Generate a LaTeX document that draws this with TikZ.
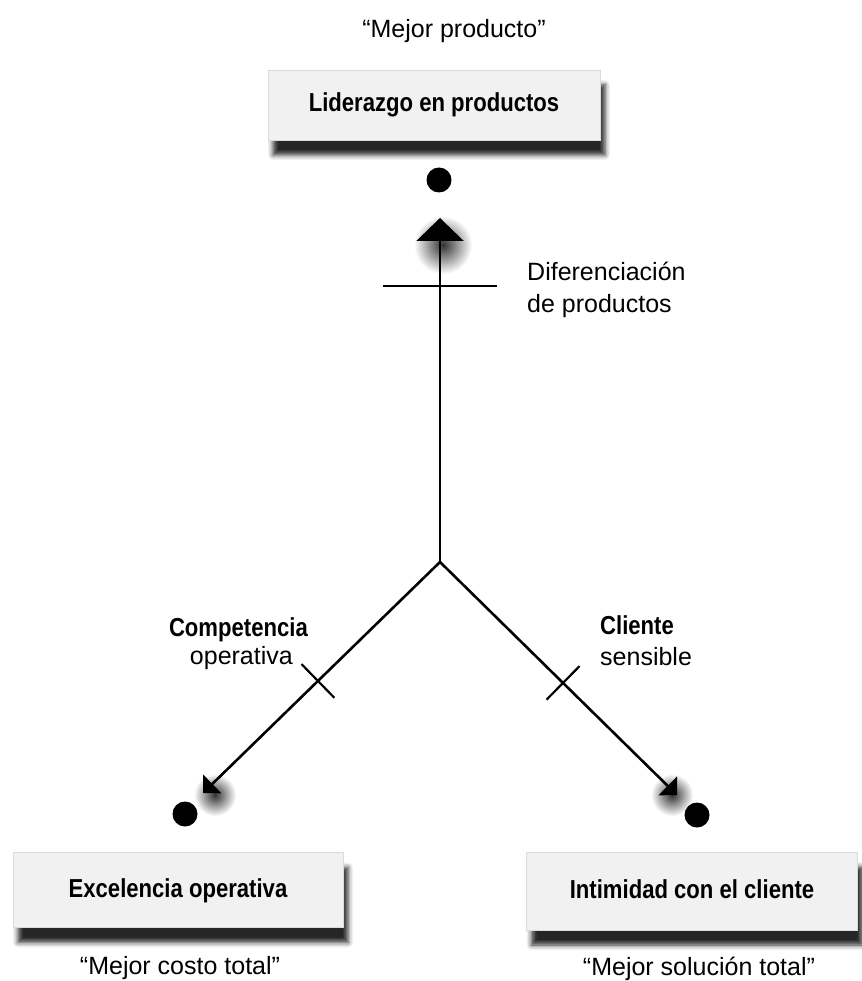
\documentclass[tikz,border=0pt]{standalone}
\usepackage{fontspec}
\setmainfont{Liberation Sans}
\newfontfamily\condfont{Liberation Sans}[FakeStretch=0.85]
\usetikzlibrary{arrows.meta,calc,shadows.blur,fadings}

% radial haze that fades out towards its rim
\tikzfading[name=haze, inner color=transparent!0, outer color=transparent!100]

\begin{document}
\begin{tikzpicture}[x=1pt,y=-1pt,
  box/.style={fill=gray!11, draw=gray!28, line width=0.6pt, inner sep=0pt,
    text height=19pt, text depth=5pt,
    font=\condfont\bfseries\fontsize{26}{30}\selectfont,
    blur shadow={shadow xshift=5pt, shadow yshift=-15pt,
      shadow blur radius=5pt, shadow opacity=85}},
  plain/.style={font=\fontsize{25}{31}\selectfont, inner sep=0pt},
  strong/.style={font=\condfont\bfseries\fontsize{26}{30}\selectfont, inner sep=0pt},
  conn/.style={line width=2.6pt},
  tickmark/.style={line width=2.2pt},
  dot/.style={circle, fill=black, minimum size=25pt, inner sep=0pt},
  halo/.style={fill=black!80, path fading=haze}]

\useasboundingbox (0,0) rectangle (861,981);

% the three strategy boxes
\node[box, minimum width=332pt, minimum height=70pt] (lider) at (434,105) {Liderazgo en productos};
\node[box, minimum width=330pt, minimum height=75pt] (excel) at (178,890) {Excelencia operativa};
\node[box, minimum width=331pt, minimum height=78pt] (intim) at (692,891) {Intimidad con el cliente};

% slogans under / above the boxes
\node[plain, anchor=base] (slT) at (454,38) {“Mejor producto”};
\node[plain, anchor=base] (slL) at (180,974) {“Mejor costo total”};
\node[plain, anchor=base] (slR) at (699,975) {“Mejor solución total”};

% dots marking each vertex
\node[dot] (dT) at (439,180) {};
\node[dot] (dL) at (185,814) {};
\node[dot] (dR) at (697,815) {};

% centre of the triangle and the arrow tips
\coordinate (j) at (440,562);
\coordinate (tipT) at (440,218);
\coordinate (tipL) at (203,793);
\coordinate (tipR) at (677,795);

% soft grey haze behind the arrowheads
\fill[halo] (443,245) circle (29pt);
\fill[halo] (215,795) circle (21pt);
\fill[halo] (672,795) circle (21pt);

% the three axes
\draw[conn, -{Triangle[width=47pt,length=23pt]}] (j) -- (tipT);
\draw[conn, -{Triangle[width=26pt,length=13pt]}] (j) -- (tipL);
\draw[conn, -{Triangle[width=26pt,length=13pt]}] (j) -- (tipR);

% cross ticks on the axes
\coordinate (pT) at ($(j)!0.802!(tipT)$);
\coordinate (pL) at ($(j)!0.515!(tipL)$);
\coordinate (pR) at ($(j)!0.519!(tipR)$);
\draw[tickmark] ($(pT)!57pt!90:(tipT)$) -- ($(pT)!57pt!-90:(tipT)$);
\draw[tickmark] ($(pL)!23.5pt!90:(tipL)$) -- ($(pL)!23.5pt!-90:(tipL)$);
\draw[tickmark] ($(pR)!23.5pt!90:(tipR)$) -- ($(pR)!23.5pt!-90:(tipR)$);

% axis labels
\node[plain, anchor=base west] (difA) at (527,280) {Diferenciación};
\node[plain, anchor=base west] (difB) at (527,312) {de productos};
\node[strong, anchor=base east] (compA) at (308,636) {Competencia};
\node[plain, anchor=base east] (compB) at (293,664) {operativa};
\node[strong, anchor=base west] (cliA) at (600,634) {Cliente};
\node[plain, anchor=base west] (cliB) at (600,665) {sensible};
\end{tikzpicture}
\end{document}
